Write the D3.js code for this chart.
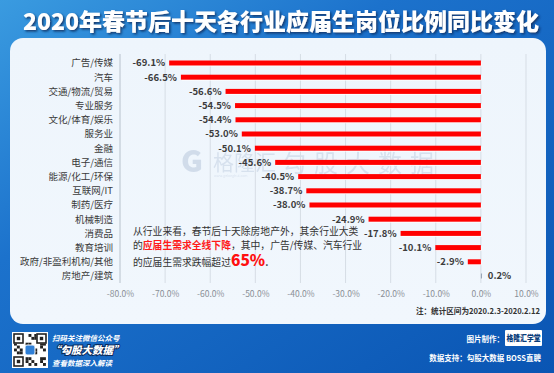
<!DOCTYPE html>
<html><head><meta charset="utf-8">
<script src="https://cdn.jsdelivr.net/npm/d3@7"></script>
<style>html,body{margin:0;padding:0;background:#0d5bb5;}svg{display:block;}</style>
</head><body>
<script>
const categories = ["广告/传媒","汽车","交通/物流/贸易","专业服务","文化/体育/娱乐","服务业","金融","电子/通信","能源/化工/环保","互联网/IT","制药/医疗","机械制造","消费品","教育培训","政府/非盈利机构/其他","房地产/建筑"];
const values = [-69.1,-66.5,-56.6,-54.5,-54.4,-53.0,-50.1,-45.6,-40.5,-38.7,-38.0,-24.9,-17.8,-10.1,-2.9,0.2];
const tickValues = [-80,-70,-60,-50,-40,-30,-20,-10,0,10];
const title = "2020年春节后十天各行业应届生岗位比例同比变化";
const note = "注：统计区间为2020.2.3-2020.2.12";

const W = 554, H = 373;
const FONT = "'Noto Sans CJK SC','Noto Sans',sans-serif";
const svg = d3.select("body").append("svg").attr("width", W).attr("height", H);
const defs = svg.append("defs");
const bg = defs.append("linearGradient").attr("id","bg").attr("x1","0").attr("y1","0").attr("x2","1").attr("y2","1");
bg.append("stop").attr("offset","0").attr("stop-color","#3a9be0");
bg.append("stop").attr("offset","0.35").attr("stop-color","#1c72cc");
bg.append("stop").attr("offset","1").attr("stop-color","#0a55b3");
const pg = defs.append("linearGradient").attr("id","pg").attr("x1","0").attr("y1","0").attr("x2","0").attr("y2","1");
pg.append("stop").attr("offset","0").attr("stop-color","#eef5fc");
pg.append("stop").attr("offset","1").attr("stop-color","#f1f7fd");
const sh = defs.append("filter").attr("id","tsh").attr("x","-5%").attr("y","-20%").attr("width","110%").attr("height","150%");
sh.append("feDropShadow").attr("dx",1.5).attr("dy",1.5).attr("stdDeviation",0.8).attr("flood-color","#0a2a5a").attr("flood-opacity",0.85);

svg.append("rect").attr("width",W).attr("height",H).attr("fill","url(#bg)");
// panel
svg.append("rect").attr("x",10).attr("y",38).attr("width",536).attr("height",286).attr("rx",13).attr("fill","url(#pg)");

// title
svg.append("text").attr("x",281).attr("y",30).attr("text-anchor","middle")
  .attr("font-family",FONT).attr("font-weight",900).attr("font-size",23)
  .attr("textLength",516).attr("lengthAdjust","spacingAndGlyphs")
  .attr("fill","#ffffff").attr("filter","url(#tsh)").text(title);

// scales
const x = d3.scaleLinear().domain([-80,10]).range([120,526]);
const y = d3.scaleBand().domain(categories).range([55.9,283.1]).padding(0);

// watermark
const wm = svg.append("g").attr("opacity",0.55);
wm.append("text").attr("x",181).attr("y",172).attr("font-family",FONT).attr("font-weight",900).attr("font-size",30).attr("fill","#b9c8dc").text("G");
wm.append("text").attr("x",213).attr("y",170).attr("font-family",FONT).attr("font-size",21).attr("fill","#c3d0e2").text("格隆汇");
wm.append("text").attr("x",214).attr("y",177).attr("font-family",FONT).attr("font-size",3.5).attr("fill","#c3d0e2").text("www.gelonghui.com");
wm.append("text").attr("x",282).attr("y",172).attr("font-family",FONT).attr("font-size",24).attr("letter-spacing",8).attr("fill","#c3d0e2").text("勾股大数据");

// grid
svg.append("g").selectAll("line").data(tickValues).join("line")
  .attr("x1",d=>x(d)).attr("x2",d=>x(d)).attr("y1",54).attr("y2",283)
  .attr("stroke",(d,i)=>i===0?"#b8c2cc":"#d6dde5").attr("stroke-width",1);

// axis labels
const xAxis = d3.axisBottom(x).tickValues(tickValues).tickSize(0).tickPadding(0).tickFormat(d=>d.toFixed(1)+"%");
const ax = svg.append("g").attr("transform","translate(0,291)").call(xAxis);
ax.select(".domain").remove();
ax.selectAll("text").attr("font-family",FONT).attr("font-size",8.5).attr("fill","#8a8f96").attr("dy","0.71em");

// category labels
svg.append("g").selectAll("text").data(categories).join("text")
  .attr("x",113).attr("y",d=>y(d)+y.bandwidth()/2).attr("dy","0.35em").attr("text-anchor","end")
  .attr("font-family","'Noto Sans CJK SC',serif").attr("font-size",9.5).attr("fill","#3a3a3a").text(d=>d);

// bars
const rows = categories.map((c,i)=>({c, v:values[i]}));
const bh = 5;
svg.append("g").selectAll("rect.s").data(rows).join("rect")
  .attr("x",d=>Math.min(x(d.v),x(0))+0.8).attr("y",d=>y(d.c)+y.bandwidth()/2-bh/2+0.9)
  .attr("width",d=>Math.max(1.2,Math.abs(x(d.v)-x(0))))
  .attr("height",bh).attr("fill","#ffffff").attr("opacity",0.9);
svg.append("g").selectAll("rect.b").data(rows).join("rect")
  .attr("x",d=>Math.min(x(d.v),x(0))).attr("y",d=>y(d.c)+y.bandwidth()/2-bh/2)
  .attr("width",d=>Math.max(1.2,Math.abs(x(d.v)-x(0))))
  .attr("height",bh).attr("fill",d=>d.v<0?"#ff0000":"#9aa7b8");

// value labels
svg.append("g").selectAll("text").data(rows).join("text")
  .attr("x",d=>d.v<0?x(d.v)-4:x(d.v)+6).attr("y",d=>y(d.c)+y.bandwidth()/2).attr("dy","0.35em")
  .attr("text-anchor",d=>d.v<0?"end":"start")
  .attr("font-family",FONT).attr("font-weight",700).attr("font-size",9.5).attr("fill","#3c3c3c")
  .text(d=>d.v.toFixed(1)+"%");

// annotation
const ann = svg.append("g").attr("font-family",FONT).attr("font-size",9.8).attr("fill","#333");
ann.append("text").attr("x",133).attr("y",235).text("从行业来看，春节后十天除房地产外，其余行业大类");
const l2 = ann.append("text").attr("x",133).attr("y",249);
l2.append("tspan").text("的");
l2.append("tspan").attr("fill","#ff1a1a").attr("font-weight",700).text("应届生需求全线下降");
l2.append("tspan").text("，其中，广告/传媒、汽车行业");
const l3 = ann.append("text").attr("x",133).attr("y",266);
l3.append("tspan").text("的应届生需求跌幅超过");
l3.append("tspan").attr("fill","#ff1010").attr("font-weight",900).attr("font-size",15.5).text("65%");
l3.append("tspan").attr("font-weight",700).text(".");

// note
svg.append("text").attr("x",540).attr("y",314).attr("text-anchor","end").attr("font-family",FONT)
  .attr("font-weight",700).attr("font-size",7.6).attr("fill","#333").text(note);

// footer left: QR-like box
const qr = svg.append("g").attr("transform","translate(12,332)");
qr.append("rect").attr("width",36).attr("height",36).attr("fill","#fff");
const qrCells = [];
for (let r=0;r<11;r++) for (let c=0;c<11;c++) { if (((r*7+c*13+r*c)%5)<2) qrCells.push([r,c]); }
qr.selectAll("rect.q").data(qrCells).join("rect").attr("x",d=>2+d[1]*2.9).attr("y",d=>2+d[0]*2.9).attr("width",2.9).attr("height",2.9).attr("fill","#222");
[[2,2],[25,2],[2,25]].forEach(p=>{
  qr.append("rect").attr("x",p[0]-0.5).attr("y",p[1]-0.5).attr("width",10).attr("height",10).attr("fill","#fff");
  qr.append("rect").attr("x",p[0]).attr("y",p[1]).attr("width",9).attr("height",9).attr("fill","none").attr("stroke","#222").attr("stroke-width",1.6);
  qr.append("rect").attr("x",p[0]+2.8).attr("y",p[1]+2.8).attr("width",3.4).attr("height",3.4).attr("fill","#222");
});
qr.append("rect").attr("x",13).attr("y",13).attr("width",10).attr("height",10).attr("rx",2).attr("fill","#2f7fd6").attr("stroke","#fff");

const fl = svg.append("g").attr("font-family",FONT).attr("fill","#fff").attr("font-style","italic");
fl.append("text").attr("x",52).attr("y",341).attr("font-size",7.5).attr("font-weight",700).text("扫码关注微信公众号");
fl.append("text").attr("x",50).attr("y",354).attr("font-size",10.5).attr("font-weight",900)
  .attr("stroke","#0b2a5c").attr("stroke-width",2).attr("paint-order","stroke").text("“勾股大数据”");
fl.append("text").attr("x",52).attr("y",366).attr("font-size",7.5).attr("font-weight",700).text("查看数据深入解读");

// footer right
const fr = svg.append("g").attr("font-family",FONT).attr("fill","#fff").attr("font-weight",700);
fr.append("text").attr("x",504).attr("y",342).attr("text-anchor","end").attr("font-size",7.5).text("图片制作：");
fr.append("rect").attr("x",505).attr("y",330).attr("width",37).attr("height",16).attr("rx",1).attr("fill","#ffffff");
fr.append("text").attr("x",523.5).attr("y",341).attr("text-anchor","middle").attr("font-size",8.5).attr("font-weight",900)
  .attr("textLength",34).attr("lengthAdjust","spacingAndGlyphs").attr("fill","#0a3d7a").text("格隆汇学堂");
fr.append("text").attr("x",541).attr("y",361).attr("text-anchor","end").attr("font-size",7.5).text("数据支持：勾股大数据 BOSS直聘");
</script>
</body></html>
